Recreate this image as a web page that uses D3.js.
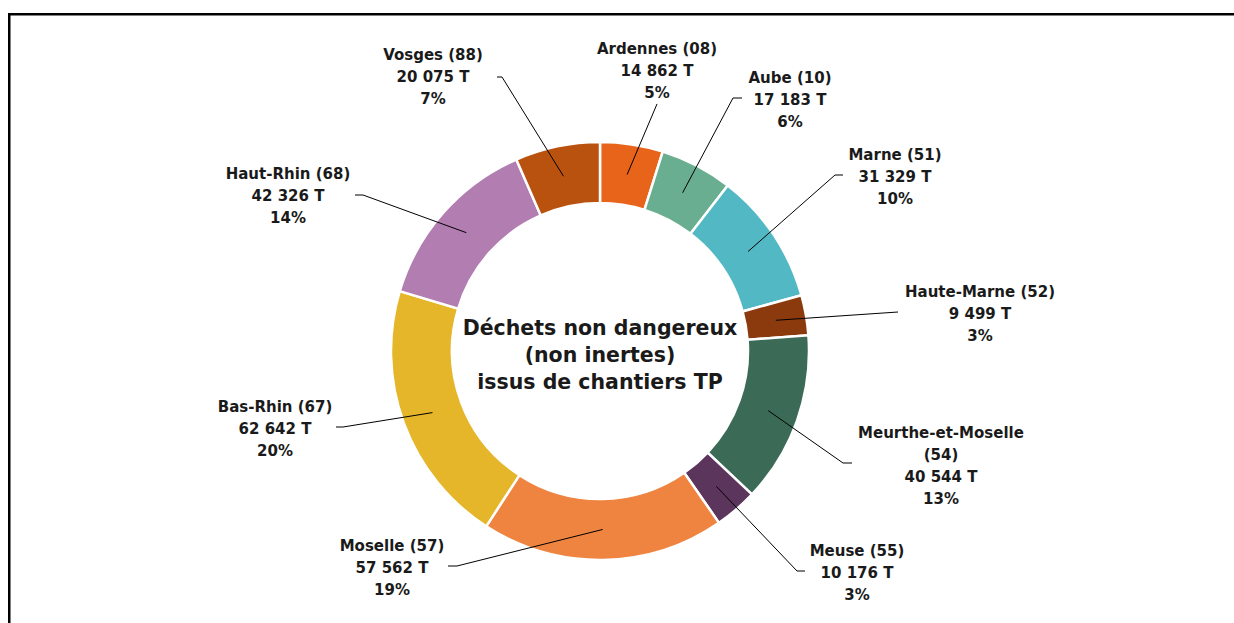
<!DOCTYPE html>
<html>
<head>
<meta charset="utf-8">
<script src="https://cdn.jsdelivr.net/npm/d3@7/dist/d3.min.js"></script>
<style>
  html, body { margin: 0; padding: 0; background: #fff; }
  svg { display: block; }
  text { font-family: "DejaVu Sans", "Noto Sans", sans-serif; font-weight: 700; fill: #1a1a1a; }
</style>
</head>
<body>
<svg id="chart" width="1234" height="623"></svg>
<script>
// ---- data ----
const departments = ["Ardennes (08)", "Aube (10)", "Marne (51)", "Haute-Marne (52)", "Meurthe-et-Moselle\n(54)", "Meuse (55)", "Moselle (57)", "Bas-Rhin (67)", "Haut-Rhin (68)", "Vosges (88)"];
const tonnages = [14862, 17183, 31329, 9499, 40544, 10176, 57562, 62642, 42326, 20075];
const colors = ["#E8641A", "#6AAE91", "#52B9C4", "#8B3A0E", "#3B6B57", "#5C355C", "#EF8441", "#E5B62A", "#B27DB0", "#BA520F"];
const titleLines = ["Déchets non dangereux", "(non inertes)", "issus de chantiers TP"];

// ---- layout (label placement, as manually placed in the original) ----
const labelLayout = [
  { x: 657, y: 49,  pts: [[657, 104]] },
  { x: 790, y: 78,  pts: [[733, 98], [742, 98]] },
  { x: 895, y: 155, pts: [[835, 175], [843, 175]] },
  { x: 980, y: 292, pts: [[898, 312]] },
  { x: 941, y: 433, pts: [[843, 463], [852, 463]] },
  { x: 857, y: 551, pts: [[797, 571], [805, 571]] },
  { x: 392, y: 546, pts: [[457, 566], [448, 566]] },
  { x: 275, y: 407, pts: [[343, 427], [336, 427]] },
  { x: 288, y: 174, pts: [[363, 195], [355, 195]] },
  { x: 433, y: 55,  pts: [[502, 77], [497, 77]] }
];

const svg = d3.select("#chart");
const cx = 600, cy = 351, rOuter = 209, rInner = 148;

// frame
svg.append("rect").attr("x", 9.25).attr("y", 14.25).attr("width", 1400).attr("height", 800)
  .attr("fill", "none").attr("stroke", "#000").attr("stroke-width", 2.5);

const total = d3.sum(tonnages);
const data = departments.map((d, i) => ({ name: d, value: tonnages[i], color: colors[i], layout: labelLayout[i] }));

const pie = d3.pie().value(d => d.value).sort(null).startAngle(0).endAngle(2 * Math.PI);
const arcs = pie(data);
const arc = d3.arc().innerRadius(rInner).outerRadius(rOuter);
const midArc = d3.arc().innerRadius((rInner + rOuter) / 2).outerRadius((rInner + rOuter) / 2);

const g = svg.append("g").attr("transform", `translate(${cx},${cy})`);
g.selectAll("path.slice").data(arcs).join("path")
  .attr("class", "slice")
  .attr("d", arc)
  .attr("fill", d => d.data.color)
  .attr("stroke", "#fff").attr("stroke-width", 2.5).attr("stroke-linejoin", "miter");

// leader lines
const line = d3.line();
svg.selectAll("path.leader").data(arcs).join("path")
  .attr("class", "leader")
  .attr("d", d => {
    const c = midArc.centroid(d);
    return line([[cx + c[0], cy + c[1]], ...d.data.layout.pts]);
  })
  .attr("fill", "none").attr("stroke", "#000").attr("stroke-width", 1);

// labels
const locale = d3.formatLocale({ decimal: ",", thousands: "\u00a0", grouping: [3], currency: ["", " €"] });
const fmt = locale.format(",d");
const fmtPct = d3.format(".0f");

const lineH = 21.8;
arcs.forEach(d => {
  const lines = d.data.name.split("\n").concat([fmt(d.data.value) + " T", fmtPct(d.data.value / total * 100) + "%"]);
  const t = svg.append("text").attr("text-anchor", "middle").attr("font-size", 15);
  lines.forEach((l, k) => {
    t.append("tspan").attr("x", d.data.layout.x).attr("y", d.data.layout.y + k * lineH).attr("dy", "0.36em").text(l);
  });
});

// centre title
const tt = svg.append("text").attr("text-anchor", "middle").attr("font-size", 20.5);
titleLines.forEach((l, k) => {
  tt.append("tspan").attr("x", cx).attr("y", 328 + k * 26.7).attr("dy", "0.36em").text(l);
});
</script>
</body>
</html>
